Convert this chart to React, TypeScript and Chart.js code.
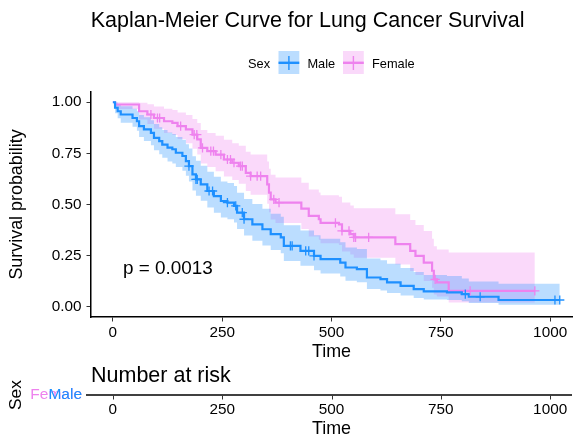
import React, { useEffect, useRef } from 'react';
import { Chart, registerables } from 'chart.js';

Chart.register(...registerables);

const FONT = '"Liberation Sans", Arial, Helvetica, sans-serif';

const TITLE = 'Kaplan-Meier Curve for Lung Cancer Survival';
const LEGEND_TITLE = 'Sex';
const GROUPS = ['Male', 'Female'];
const LINE_COLORS = ['#1E90FF', '#EE82EE'];
const BAND_COLORS = ['rgba(30,144,255,0.3)', 'rgba(238,130,238,0.3)'];

const X_TITLE = 'Time';
const Y_TITLE = 'Survival probability';
const X_TICKS = [0, 250, 500, 750, 1000];
const Y_TICKS = [0, 0.25, 0.5, 0.75, 1];

const P_VALUE_TEXT = 'p = 0.0013';
const P_VALUE_POS = [23, 0.16];

const RISK_TITLE = 'Number at risk';
const RISK_AXIS_TITLE = 'Sex';

// Male
const MALE_TIME = [0, 5, 11, 18, 45, 55, 60, 71, 87, 94, 106, 113, 125, 136, 144, 159, 167, 174, 182, 190, 201, 216, 231, 247, 262, 277, 284, 300, 319, 342, 361, 384, 391, 429, 460, 475, 520, 532, 558, 581, 612, 627, 658, 688, 711, 764, 798, 814, 882, 1022];
const MALE_SURV = [1, 0.973, 0.956, 0.94, 0.923, 0.907, 0.883, 0.867, 0.85, 0.826, 0.81, 0.793, 0.778, 0.77, 0.753, 0.737, 0.712, 0.688, 0.647, 0.623, 0.598, 0.566, 0.541, 0.517, 0.509, 0.493, 0.46, 0.428, 0.403, 0.379, 0.355, 0.339, 0.298, 0.273, 0.249, 0.233, 0.216, 0.192, 0.184, 0.143, 0.135, 0.119, 0.102, 0.086, 0.075, 0.07, 0.062, 0.049, 0.033, 0.033];
const MALE_UPPER = [1, 0.999, 0.99, 0.98, 0.968, 0.956, 0.938, 0.926, 0.912, 0.893, 0.878, 0.864, 0.852, 0.845, 0.83, 0.816, 0.795, 0.774, 0.736, 0.714, 0.69, 0.66, 0.636, 0.613, 0.605, 0.59, 0.558, 0.527, 0.502, 0.479, 0.455, 0.44, 0.398, 0.373, 0.35, 0.333, 0.315, 0.29, 0.282, 0.236, 0.227, 0.21, 0.19, 0.17, 0.155, 0.15, 0.138, 0.124, 0.112, 0.112];
const MALE_LOWER = [1, 0.946, 0.922, 0.9, 0.88, 0.86, 0.83, 0.81, 0.79, 0.765, 0.746, 0.728, 0.71, 0.7, 0.683, 0.665, 0.64, 0.612, 0.568, 0.543, 0.518, 0.485, 0.46, 0.437, 0.428, 0.412, 0.38, 0.348, 0.323, 0.3, 0.277, 0.262, 0.224, 0.2, 0.178, 0.163, 0.148, 0.127, 0.12, 0.087, 0.08, 0.067, 0.055, 0.043, 0.036, 0.033, 0.027, 0.019, 0.01, 0.01];
const MALE_CENSOR = [174, 190, 193, 220, 228, 262, 281, 296, 300, 406, 410, 441, 448, 460, 806, 840, 1011, 1022];

// Female
const FEMALE_TIME = [0, 5, 60, 79, 94, 117, 136, 148, 167, 182, 193, 201, 216, 235, 254, 273, 288, 304, 315, 353, 357, 361, 372, 431, 448, 471, 475, 517, 524, 543, 551, 646, 680, 692, 711, 730, 734, 741, 768, 965];
const FEMALE_SURV = [1, 0.989, 0.956, 0.94, 0.923, 0.907, 0.899, 0.883, 0.867, 0.842, 0.818, 0.777, 0.761, 0.744, 0.72, 0.704, 0.688, 0.655, 0.639, 0.598, 0.558, 0.525, 0.509, 0.48, 0.444, 0.428, 0.41, 0.403, 0.371, 0.355, 0.339, 0.306, 0.273, 0.249, 0.216, 0.176, 0.134, 0.119, 0.078, 0.078];
const FEMALE_UPPER = [1, 1, 0.998, 0.99, 0.979, 0.968, 0.962, 0.95, 0.938, 0.918, 0.898, 0.864, 0.85, 0.836, 0.816, 0.8, 0.787, 0.758, 0.745, 0.71, 0.675, 0.645, 0.632, 0.606, 0.573, 0.559, 0.545, 0.538, 0.51, 0.495, 0.482, 0.452, 0.424, 0.4, 0.37, 0.333, 0.296, 0.28, 0.265, 0.265];
const FEMALE_LOWER = [1, 0.967, 0.915, 0.893, 0.87, 0.85, 0.84, 0.82, 0.8, 0.772, 0.745, 0.7, 0.683, 0.663, 0.637, 0.62, 0.602, 0.566, 0.548, 0.504, 0.462, 0.427, 0.41, 0.38, 0.344, 0.328, 0.31, 0.302, 0.27, 0.255, 0.24, 0.207, 0.175, 0.155, 0.126, 0.093, 0.06, 0.05, 0.021, 0.021];
const FEMALE_CENSOR = [87, 102, 107, 155, 186, 192, 205, 224, 230, 247, 262, 269, 277, 292, 296, 315, 330, 338, 368, 380, 509, 524, 540, 551, 555, 585, 737, 817, 965];

function toPoints(times: number[], values: number[]) {
  return times.map((t, i) => ({ x: t, y: values[i] }));
}

function survivalAt(times: number[], surv: number[], t: number) {
  let v = surv[0];
  for (let i = 0; i < times.length; i++) {
    if (times[i] <= t) v = surv[i];
  }
  return v;
}

const overlayPlugin = {
  id: 'kmOverlay',
  afterDraw(chart: any) {
    const ctx = chart.ctx as CanvasRenderingContext2D;
    const xs = chart.scales.x;
    const ys = chart.scales.y;
    const area = chart.chartArea;
    ctx.save();

    // Title
    ctx.fillStyle = '#000';
    ctx.font = `21.5px ${FONT}`;
    ctx.textAlign = 'left';
    ctx.textBaseline = 'alphabetic';
    ctx.fillText(TITLE, 90.7, 26.7);

    // Legend
    ctx.font = `12.8px ${FONT}`;
    ctx.fillText(LEGEND_TITLE, 248, 68.3);
    const boxX = [278.5, 343];
    const textX = [307.4, 372];
    const bw = 20.8;
    for (let i = 0; i < GROUPS.length; i++) {
      const bx = boxX[i];
      ctx.fillStyle = BAND_COLORS[i];
      ctx.fillRect(bx, 51, bw, 23);
      ctx.strokeStyle = LINE_COLORS[i];
      ctx.lineWidth = 2.4;
      ctx.beginPath();
      ctx.moveTo(bx, 62.8);
      ctx.lineTo(bx + bw, 62.8);
      ctx.stroke();
      ctx.lineWidth = 1.4;
      ctx.beginPath();
      ctx.moveTo(bx + bw / 2, 56);
      ctx.lineTo(bx + bw / 2, 70);
      ctx.stroke();
      ctx.fillStyle = '#000';
      ctx.fillText(GROUPS[i], textX[i], 68.3);
    }

    // p-value
    ctx.font = `18.9px ${FONT}`;
    ctx.fillStyle = '#000';
    ctx.fillText(P_VALUE_TEXT, xs.getPixelForValue(P_VALUE_POS[0]), ys.getPixelForValue(P_VALUE_POS[1]));

    // Risk table
    ctx.font = `21.5px ${FONT}`;
    ctx.fillText(RISK_TITLE, 91, 382);

    ctx.strokeStyle = '#000';
    ctx.lineWidth = 1.5;
    ctx.beginPath();
    ctx.moveTo(86, 395);
    ctx.lineTo(area.right, 395);
    ctx.stroke();

    ctx.strokeStyle = '#333';
    ctx.lineWidth = 1;
    ctx.font = `15.3px ${FONT}`;
    ctx.textAlign = 'center';
    ctx.textBaseline = 'middle';
    ctx.fillStyle = '#000';
    for (const v of X_TICKS) {
      const px = Math.round(xs.getPixelForValue(v)) + 0.5;
      ctx.beginPath();
      ctx.moveTo(px, 395.5);
      ctx.lineTo(px, 399.5);
      ctx.stroke();
      ctx.fillText(String(v), xs.getPixelForValue(v), 409.5);
    }

    ctx.font = `17.9px ${FONT}`;
    ctx.fillText(X_TITLE, (area.left + area.right) / 2, 429.5);

    // Sex rotated
    ctx.save();
    ctx.translate(16, 395);
    ctx.rotate(-Math.PI / 2);
    ctx.font = `17.4px ${FONT}`;
    ctx.fillText(RISK_AXIS_TITLE, 0, 0);
    ctx.restore();

    // strata labels (Female first, Male on top)
    ctx.font = `15.5px ${FONT}`;
    ctx.textAlign = 'right';
    ctx.textBaseline = 'middle';
    for (let i = GROUPS.length - 1; i >= 0; i--) {
      ctx.fillStyle = LINE_COLORS[i];
      ctx.fillText(GROUPS[i], 82, 394.5);
    }

    ctx.restore();
  },
};

export default function App() {
  const canvasRef = useRef<HTMLCanvasElement | null>(null);

  useEffect(() => {
    const canvas = canvasRef.current;
    if (!canvas) return;
    Chart.defaults.font.family = FONT;

    const censorDs = (times: number[], surv: number[], censor: number[], color: string, label: string) => ({
      label,
      data: censor.map((t) => ({ x: t, y: survivalAt(times, surv, t) })),
      showLine: false,
      pointStyle: 'cross',
      pointRadius: 4.6,
      pointBorderColor: color,
      pointBorderWidth: 1.3,
      fill: false,
      order: 0,
    });

    const lineDs = (times: number[], surv: number[], color: string, label: string) => ({
      label,
      data: toPoints(times, surv),
      borderColor: color,
      borderWidth: 2.2,
      stepped: 'before',
      pointRadius: 0,
      fill: false,
      order: 1,
    });

    const bandDs = (times: number[], vals: number[], color: string, label: string, fill: any) => ({
      label,
      data: toPoints(times, vals),
      borderColor: 'rgba(0,0,0,0)',
      borderWidth: 0,
      backgroundColor: color,
      stepped: 'before',
      pointRadius: 0,
      fill,
      order: 2,
    });

    const chart = new Chart(canvas, {
      type: 'line',
      data: {
        datasets: [
          lineDs(MALE_TIME, MALE_SURV, LINE_COLORS[0], GROUPS[0]),
          lineDs(FEMALE_TIME, FEMALE_SURV, LINE_COLORS[1], GROUPS[1]),
          censorDs(MALE_TIME, MALE_SURV, MALE_CENSOR, LINE_COLORS[0], GROUPS[0] + ' censored'),
          censorDs(FEMALE_TIME, FEMALE_SURV, FEMALE_CENSOR, LINE_COLORS[1], GROUPS[1] + ' censored'),
          bandDs(MALE_TIME, MALE_UPPER, BAND_COLORS[0], GROUPS[0] + ' upper', '+1'),
          bandDs(MALE_TIME, MALE_LOWER, BAND_COLORS[0], GROUPS[0] + ' lower', false),
          bandDs(FEMALE_TIME, FEMALE_UPPER, BAND_COLORS[1], GROUPS[1] + ' upper', '+1'),
          bandDs(FEMALE_TIME, FEMALE_LOWER, BAND_COLORS[1], GROUPS[1] + ' lower', false),
        ] as any,
      },
      options: {
        responsive: false,
        animation: false,
        devicePixelRatio: 1,
        events: [],
        layout: { padding: { top: 92, left: 0, right: 8, bottom: 73 } },
        plugins: {
          legend: { display: false },
          tooltip: { enabled: false },
          title: { display: false },
          filler: { propagate: false, drawTime: 'beforeDatasetsDraw' },
        } as any,
        scales: {
          x: {
            type: 'linear',
            min: -50,
            max: 1050,
            afterBuildTicks: (s: any) => {
              s.ticks = X_TICKS.map((v) => ({ value: v }));
            },
            afterFit: (s: any) => {
              s.height = 46;
            },
            ticks: {
              font: { size: 15.3, family: FONT },
              color: '#000',
              padding: 2,
              maxRotation: 0,
              autoSkip: false,
              callback: (v: any) => String(v),
            },
            grid: { display: true, drawOnChartArea: false, drawTicks: true, tickLength: 4.5, color: '#333', lineWidth: 1 },
            border: { display: true, color: '#000', width: 1.5 },
            title: { display: true, text: X_TITLE, font: { size: 17.9, family: FONT }, color: '#000', padding: { top: 0, bottom: 0 } },
          },
          y: {
            type: 'linear',
            min: -0.05,
            max: 1.05,
            afterBuildTicks: (s: any) => {
              s.ticks = Y_TICKS.map((v) => ({ value: v }));
            },
            afterFit: (s: any) => {
              s.width = 91;
            },
            ticks: {
              font: { size: 15.3, family: FONT },
              color: '#000',
              padding: 5,
              autoSkip: false,
              callback: (v: any) => Number(v).toFixed(2),
            },
            grid: { display: true, drawOnChartArea: false, drawTicks: true, tickLength: 4.5, color: '#333', lineWidth: 1 },
            border: { display: true, color: '#000', width: 1.5 },
            title: { display: true, text: Y_TITLE, font: { size: 17.9, family: FONT }, color: '#000', padding: { top: 6.3, bottom: 0 } },
          },
        },
      } as any,
      plugins: [overlayPlugin],
    });

    return () => {
      chart.destroy();
    };
  }, []);

  return (
    <div style={{ position: 'fixed', left: 0, top: 0, width: 580, height: 436, background: '#fff' }}>
      <canvas ref={canvasRef} width={580} height={436} style={{ width: 580, height: 436, display: 'block' }} />
    </div>
  );
}
